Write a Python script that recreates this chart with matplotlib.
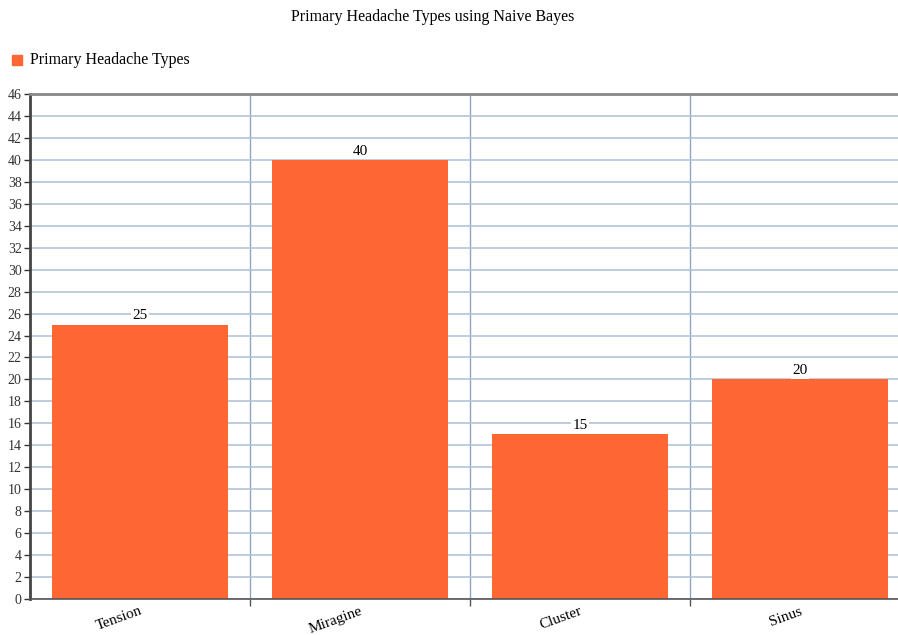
import matplotlib.pyplot as plt
from matplotlib.patches import Rectangle
from matplotlib.transforms import ScaledTranslation

plt.rcParams['font.family'] = ['Liberation Serif', 'DejaVu Serif']

categorias = ['Tension', 'Miragine', 'Cluster', 'Sinus']
valores = [25, 40, 15, 20]
serie = 'Primary Headache Types'
titulo = 'Primary Headache Types using Naive Bayes'
cor = '#fe6633'

fig = plt.figure(figsize=(8.98, 6.35), dpi=100)
# axes vai um pouco além da borda direita, como no original
ax = fig.add_axes([30 / 898, 1 - 599 / 635, 880 / 898, 505 / 635])

x = list(range(len(categorias)))
bars = ax.bar(x, valores, width=0.8, color=cor, zorder=2)

ax.set_xlim(-0.5, len(categorias) - 0.5)
ax.set_ylim(0, 46)
ax.set_yticks(range(0, 47, 2))
ax.tick_params(axis='y', labelsize=10, length=4, width=1, pad=2, colors='#333333')
ax.set_xticks(x)
ax.set_xticklabels(categorias, rotation=20, ha='right', fontsize=11)
ax.tick_params(axis='x', length=0, pad=4)
# desloca um pouco os rótulos para a direita
for lbl in ax.get_xticklabels():
    lbl.set_transform(lbl.get_transform() + ScaledTranslation(0.04, 0, fig.dpi_scale_trans))
ax.set_xticks([i + 0.5 for i in x[:-1]], minor=True)
ax.tick_params(axis='x', which='minor', length=5, width=1, color='#555555')

ax.yaxis.grid(True, color='#b4c4d6', linewidth=1.2, zorder=0)
ax.xaxis.grid(True, which='minor', color='#8fa5c0', linewidth=1.0, zorder=0)
ax.set_axisbelow(True)

ax.spines['left'].set_color('#444444')
ax.spines['left'].set_linewidth(2)
ax.spines['bottom'].set_color('#555555')
ax.spines['bottom'].set_linewidth(1.2)
ax.spines['top'].set_color('#888888')
ax.spines['top'].set_linewidth(2)
ax.spines['right'].set_visible(False)

for b, v in zip(bars, valores):
    ax.text(b.get_x() + b.get_width() / 2, v + 0.2, str(v), ha='center', va='bottom',
            fontsize=11, zorder=3,
            bbox=dict(facecolor='white', edgecolor='none', pad=1))

fig.text(433 / 898, 1 - 17 / 635, titulo, ha='center', va='center', fontsize=11.5)

# legenda manual
fig.patches.append(Rectangle((12 / 898, 1 - 65 / 635), 10 / 898, 10 / 635,
                             transform=fig.transFigure, color=cor))
fig.text(30 / 898, 1 - 60 / 635, serie, ha='left', va='center', fontsize=11.5)

fig.savefig('out.png', dpi=100)
